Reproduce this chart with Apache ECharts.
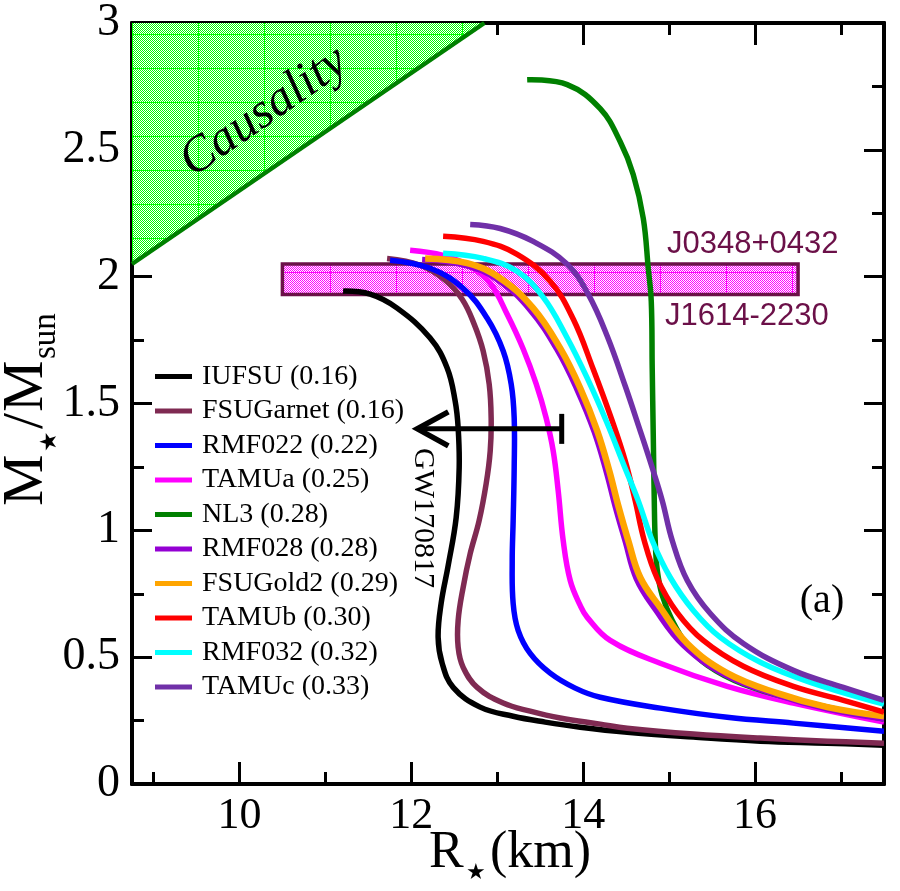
<!DOCTYPE html>
<html>
<head>
<meta charset="utf-8">
<script src="https://cdn.jsdelivr.net/npm/echarts@6/dist/echarts.min.js"></script>
<style>
  html, body { margin: 0; background: #fff; }
  #main { width: 900px; height: 891px; }
</style>
</head>
<body>
<div id="main"></div>
<script>
// axis ranges and ticks
const xRange = [8.75, 17.5];
const yRange = [0, 3];
const xMajor = [10, 12, 14, 16];
const xMinor = [9, 11, 13, 15, 17];

// mass-radius curves [R (km), M/Msun]
const iufsu = [[11.206,1.943],[11.521,1.931],[11.835,1.876],[12.219,1.758],[12.417,1.640],[12.510,1.510],[12.545,1.404],[12.557,1.247],[12.522,1.050],[12.429,0.861],[12.347,0.712],[12.312,0.578],[12.359,0.476],[12.487,0.381],[12.801,0.303],[13.185,0.267],[13.558,0.244],[13.965,0.224],[14.512,0.204],[15.281,0.185],[16.061,0.169],[16.841,0.161],[17.5,0.153]];
const fsugarnet = [[11.718,2.072],[12.103,2.045],[12.394,1.986],[12.592,1.911],[12.731,1.813],[12.836,1.707],[12.906,1.577],[12.929,1.443],[12.918,1.313],[12.871,1.184],[12.789,1.038],[12.685,0.908],[12.603,0.775],[12.545,0.645],[12.545,0.539],[12.603,0.460],[12.766,0.381],[13.069,0.319],[13.383,0.287],[13.732,0.260],[14.198,0.236],[14.512,0.220],[15.281,0.197],[16.061,0.181],[16.841,0.169],[17.5,0.161]];
const rmf022 = [[11.753,2.065],[12.219,2.033],[12.603,1.954],[12.883,1.836],[13.069,1.707],[13.162,1.577],[13.197,1.443],[13.197,1.247],[13.185,1.038],[13.174,0.881],[13.185,0.712],[13.243,0.606],[13.383,0.515],[13.616,0.437],[13.907,0.378],[14.198,0.342],[14.896,0.299],[15.676,0.263],[16.445,0.240],[17.5,0.208]];
const tamua = [[11.986,2.104],[12.370,2.084],[12.685,2.041],[12.918,1.974],[13.115,1.852],[13.302,1.715],[13.453,1.577],[13.569,1.443],[13.651,1.313],[13.709,1.156],[13.767,0.960],[13.849,0.802],[13.965,0.704],[14.047,0.657],[14.314,0.566],[14.896,0.476],[15.676,0.385],[16.445,0.319],[17.5,0.244]];
const nl3 = [[13.348,2.776],[13.814,2.757],[14.198,2.662],[14.431,2.532],[14.582,2.403],[14.699,2.230],[14.757,2.033],[14.792,1.903],[14.803,1.640],[14.815,1.380],[14.827,1.117],[14.838,0.960],[14.862,0.842],[14.920,0.743],[15.036,0.645],[15.211,0.547],[15.444,0.468],[15.863,0.393],[16.445,0.334],[17.5,0.256]];
const rmf028 = [[12.126,2.068],[12.626,2.045],[13.011,1.986],[13.383,1.868],[13.697,1.711],[13.930,1.553],[14.128,1.388],[14.268,1.231],[14.373,1.093],[14.489,0.956],[14.617,0.810],[14.838,0.688],[15.164,0.547],[15.653,0.429],[16.258,0.350],[16.841,0.295],[17.5,0.256]];
const fsugold2 = [[12.161,2.072],[12.650,2.053],[13.034,1.994],[13.418,1.876],[13.732,1.718],[13.965,1.561],[14.163,1.392],[14.303,1.235],[14.408,1.097],[14.524,0.960],[14.664,0.814],[14.896,0.696],[15.211,0.554],[15.676,0.437],[16.258,0.358],[16.841,0.303],[17.5,0.267]];
const tamub = [[12.370,2.159],[12.836,2.139],[13.232,2.088],[13.616,1.982],[13.884,1.833],[14.116,1.636],[14.338,1.431],[14.489,1.274],[14.605,1.117],[14.710,0.960],[14.862,0.810],[15.094,0.676],[15.397,0.566],[15.863,0.464],[16.445,0.385],[17.027,0.330],[17.5,0.283]];
const rmf032 = [[12.370,2.092],[12.836,2.072],[13.232,2.021],[13.534,1.919],[13.802,1.766],[14.047,1.600],[14.268,1.431],[14.477,1.254],[14.640,1.117],[14.803,0.960],[15.013,0.814],[15.281,0.684],[15.595,0.578],[16.061,0.480],[16.643,0.401],[17.5,0.315]];
const tamuc = [[12.685,2.206],[13.034,2.190],[13.418,2.139],[13.814,2.049],[14.058,1.931],[14.279,1.766],[14.489,1.569],[14.652,1.404],[14.803,1.247],[14.920,1.117],[15.036,0.960],[15.211,0.802],[15.479,0.672],[15.863,0.554],[16.445,0.448],[17.027,0.381],[17.5,0.330]];

const curveNames = ['IUFSU (0.16)', 'FSUGarnet (0.16)', 'RMF022 (0.22)', 'TAMUa (0.25)', 'NL3 (0.28)',
  'RMF028 (0.28)', 'FSUGold2 (0.29)', 'TAMUb (0.30)', 'RMF032 (0.32)', 'TAMUc (0.33)'];
const curveData = [iufsu, fsugarnet, rmf022, tamua, nl3, rmf028, fsugold2, tamub, rmf032, tamuc];
const curveColors = ['#000000', '#7f2a52', '#0000ff', '#ff00ff', '#008000',
  '#9400d3', '#ffa500', '#ff0000', '#00ffff', '#7030a8'];

// shaded regions and the GW170817 bound
const causality = [[8.75, 2.05, 12.85, 3.0]];          // [R0, M0, R1, M1]
const pulsarBand = [[10.5, 1.93, 16.5, 2.05]];        // [Rmin, Mmin, Rmax, Mmax]
const gwBound = [[12.07, 13.75, 1.4]];                // [arrow tip R, bound R, M]

const serif = "'Liberation Serif', 'Times New Roman', serif";
const sans = "'Liberation Sans', Arial, sans-serif";

// checker texture with a faint grid, like the hatch in the figure
function checker(color) {
  const cv = document.createElement('canvas');
  cv.width = 66; cv.height = 34;
  const ctx = cv.getContext('2d');
  ctx.fillStyle = '#ffffff';
  ctx.fillRect(0, 0, 66, 34);
  ctx.fillStyle = color;
  for (let i = 0; i < 66; i++) {
    for (let j = 0; j < 34; j++) {
      if ((i + j) % 2 === 0) ctx.fillRect(i, j, 1, 1);
    }
  }
  ctx.fillRect(0, 0, 66, 1);
  ctx.fillRect(0, 0, 1, 34);
  return { image: cv, repeat: 'repeat' };
}

function xAx(pos, vals, len, showLabel) {
  return {
    type: 'value', position: pos, min: xRange[0], max: xRange[1],
    axisLine: { show: true, onZero: false, lineStyle: { color: '#000', width: 4 } },
    axisTick: { show: true, inside: true, length: len, customValues: vals, lineStyle: { color: '#000', width: 3 } },
    axisLabel: showLabel
      ? { customValues: vals, fontFamily: serif, fontSize: 44, color: '#000', margin: 10 }
      : { show: false },
    splitLine: { show: false }
  };
}

function yAx(pos, showLabel) {
  return {
    type: 'value', position: pos, min: yRange[0], max: yRange[1], interval: 0.5,
    axisLine: { show: true, onZero: false, lineStyle: { color: '#000', width: 4 } },
    axisTick: { show: true, inside: true, length: 20, lineStyle: { color: '#000', width: 3 } },
    minorTick: { show: true, splitNumber: 2, length: 12, lineStyle: { color: '#000', width: 3 } },
    axisLabel: showLabel
      ? { fontFamily: serif, fontSize: 46, color: '#000', margin: 12, showMinLabel: true, showMaxLabel: true }
      : { show: false },
    splitLine: { show: false },
    minorSplitLine: { show: false }
  };
}

// one smooth M-R curve, drawn through the cartesian scales
function curveSeries(name, data, color, width) {
  return {
    type: 'custom', name: name, data: data, z: 3, clip: true, silent: true,
    itemStyle: { color: color },
    renderItem: function (params, api) {
      if (params.dataIndexInside !== 0) return null;
      const pts = [];
      for (let i = 0; i < params.dataInsideLength; i++) {
        pts.push(api.coord([api.value(0, i), api.value(1, i)]));
      }
      return {
        type: 'polyline',
        shape: { points: pts, smooth: 0.4 },
        style: { stroke: color, lineWidth: width, fill: null }
      };
    }
  };
}

const chart = echarts.init(document.getElementById('main'));

const series = [
  {
    type: 'custom', name: 'causality', silent: true, z: 1,
    data: causality,
    renderItem: function (params, api) {
      const a = api.coord([api.value(0), api.value(1)]);
      const b = api.coord([api.value(2), api.value(3)]);
      const c = api.coord([api.value(0), api.value(3)]);
      return {
        type: 'group',
        children: [
          { type: 'polygon', shape: { points: [a, b, c] }, style: { fill: checker('#00ff00') } },
          { type: 'line', shape: { x1: a[0], y1: a[1], x2: b[0], y2: b[1] }, style: { stroke: '#008000', lineWidth: 4.5 } }
        ]
      };
    }
  },
  {
    type: 'custom', name: 'pulsars', silent: true, z: 1,
    data: pulsarBand,
    renderItem: function (params, api) {
      const p0 = api.coord([api.value(0), api.value(3)]);
      const p1 = api.coord([api.value(2), api.value(1)]);
      return {
        type: 'rect',
        shape: { x: p0[0], y: p0[1], width: p1[0] - p0[0], height: p1[1] - p0[1] },
        style: { fill: checker('#ff00ff'), stroke: '#6b1048', lineWidth: 3.5 }
      };
    }
  }
];

curveData.forEach(function (d, i) {
  series.push(curveSeries(curveNames[i], d, curveColors[i], i === 6 ? 6.5 : 5.5));
});

series.push({
  type: 'custom', name: 'gw', silent: true, z: 5,
  data: gwBound,
  renderItem: function (params, api) {
    const tip = api.coord([api.value(0), api.value(2)]);
    const end = api.coord([api.value(1), api.value(2)]);
    const st = { stroke: '#000', lineWidth: 5 };
    return {
      type: 'group',
      children: [
        { type: 'line', shape: { x1: tip[0] + 2, y1: tip[1], x2: end[0], y2: end[1] }, style: st },
        { type: 'line', shape: { x1: end[0], y1: end[1] - 15, x2: end[0], y2: end[1] + 15 }, style: st },
        { type: 'polyline', shape: { points: [[tip[0] + 31, tip[1] - 17], [tip[0], tip[1]], [tip[0] + 31, tip[1] + 17]] }, style: { stroke: '#000', lineWidth: 5.5, fill: null } }
      ]
    };
  }
});

const option = {
  animation: false,
  backgroundColor: '#fff',
  grid: { left: 132, right: 16, top: 21, bottom: 107, containLabel: false },
  xAxis: [
    xAx('bottom', xMajor, 22, true),
    xAx('bottom', xMinor, 12, false),
    xAx('top', xMajor, 22, false),
    xAx('top', xMinor, 12, false)
  ],
  yAxis: [yAx('left', true), yAx('right', false)],
  legend: {
    orient: 'vertical', left: 155, top: 362, padding: 0,
    itemGap: 5.5, itemWidth: 37, itemHeight: 5, icon: 'rect',
    textStyle: { fontFamily: serif, fontSize: 28, color: '#000', lineHeight: 29, padding: [0, 0, 0, 5] },
    data: curveNames
  },
  series: series,
  graphic: [
    { type: 'text', x: 264, y: 112, rotation: 0.606, z: 10,
      style: { text: 'Causality', font: 'italic 50px ' + serif, fill: '#000', align: 'center', verticalAlign: 'middle' } },
    { type: 'text', x: 667, y: 244, z: 10,
      style: { text: 'J0348+0432', font: '31px ' + sans, fill: '#6b1048', align: 'left', verticalAlign: 'middle' } },
    { type: 'text', x: 665, y: 316, z: 10,
      style: { text: 'J1614-2230', font: '31px ' + sans, fill: '#6b1048', align: 'left', verticalAlign: 'middle' } },
    { type: 'text', x: 822, y: 601, z: 10,
      style: { text: '(a)', font: '40px ' + serif, fill: '#000', align: 'center', verticalAlign: 'middle' } },
    { type: 'text', x: 423, y: 518, rotation: -Math.PI / 2, z: 10,
      style: { text: 'GW170817', font: '30px ' + serif, fill: '#000', align: 'center', verticalAlign: 'middle' } },
    // x axis title R*(km)
    { type: 'text', x: 429, y: 853, z: 10,
      style: { text: 'R', font: '52px ' + serif, fill: '#000', align: 'left', verticalAlign: 'middle' } },
    { type: 'text', x: 466, y: 873, z: 10,
      style: { text: '\u2605', font: "22px 'DejaVu Sans'", fill: '#000', align: 'left', verticalAlign: 'middle' } },
    { type: 'text', x: 490, y: 853, z: 10,
      style: { text: '(km)', font: '52px ' + serif, fill: '#000', align: 'left', verticalAlign: 'middle' } },
    // y axis title M*/Msun
    { type: 'group', x: 27, y: 506, rotation: Math.PI / 2, z: 10,
      children: [
        { type: 'text', x: 0, y: 0, style: { text: 'M', font: '58px ' + serif, fill: '#000', align: 'left', verticalAlign: 'middle' } },
        { type: 'text', x: 54, y: 23, style: { text: '\u2605', font: "23px 'DejaVu Sans'", fill: '#000', align: 'left', verticalAlign: 'middle' } },
        { type: 'text', x: 77, y: 0, style: { text: '/', font: '58px ' + serif, fill: '#000', align: 'left', verticalAlign: 'middle' } },
        { type: 'text', x: 94, y: 0, style: { text: 'M', font: '58px ' + serif, fill: '#000', align: 'left', verticalAlign: 'middle' } },
        { type: 'text', x: 147, y: 19, style: { text: 'sun', font: '33px ' + serif, fill: '#000', align: 'left', verticalAlign: 'middle' } }
      ] }
  ]
};

chart.setOption(option);
</script>
</body>
</html>
